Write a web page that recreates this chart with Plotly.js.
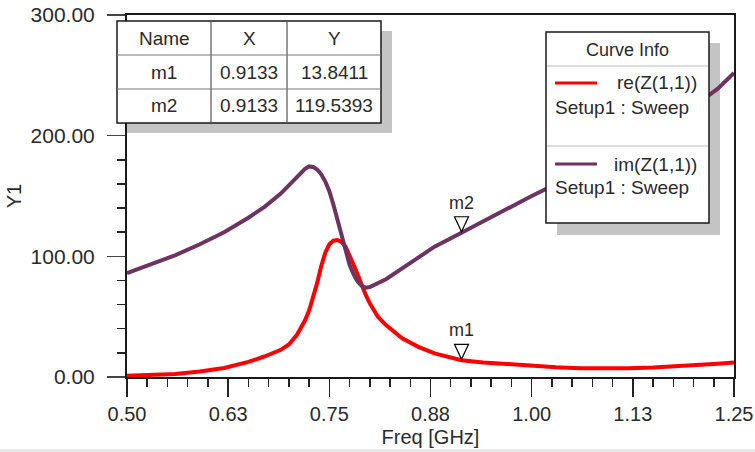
<!DOCTYPE html>
<html>
<head>
<meta charset="utf-8">
<script src="https://cdn.plot.ly/plotly-3.0.1.min.js"></script>
<style>
  html, body { margin: 0; padding: 0; background: #ffffff; }
  #chart { width: 755px; height: 452px; }
</style>
</head>
<body>
<div id="chart"></div>
<script>
// ---------- data ----------
const freq = [0.50, 0.53, 0.56, 0.59, 0.62, 0.65, 0.67, 0.69, 0.70, 0.71, 0.72, 0.725, 0.73, 0.735, 0.74, 0.745, 0.75, 0.755, 0.76, 0.765, 0.77, 0.775, 0.78, 0.785, 0.79, 0.795, 0.80, 0.81, 0.82, 0.84, 0.86, 0.88, 0.9133, 0.94, 0.97, 1.00, 1.03, 1.06, 1.09, 1.12, 1.15, 1.18, 1.21, 1.23, 1.25];
const reZ  = [1.0, 1.5, 2.5, 4.5, 7.5, 12.5, 17, 22.5, 27, 35, 47, 55, 66, 78, 92, 103, 110, 113, 113.5, 112, 108, 101, 93, 85, 76, 68, 61, 50, 43, 32, 25, 19.5, 13.8411, 12, 10.8, 9.2, 8, 7.3, 7, 7.2, 7.8, 8.8, 10, 11, 12];
const imZ  = [86, 93.5, 101, 110, 120, 132, 141, 152, 159, 166, 172.5, 174.5, 174, 172, 168, 162, 154, 143, 130, 117, 104, 93, 85, 79, 75.5, 74, 74.5, 78, 81, 90, 99.5, 108, 119.5393, 129, 140, 150, 160, 171, 182, 193, 205, 217, 229, 239, 252];

const curveNames  = ['re(Z(1,1))', 'im(Z(1,1))'];
const setupLabel  = 'Setup1 : Sweep';
const curveColors = ['#ff0000', '#6e3461'];

const markerNames = ['m1', 'm2'];
const markerX     = [0.9133, 0.9133];
const markerY     = [13.8411, 119.5393];

const xTickVals = [0.50, 0.625, 0.75, 0.875, 1.00, 1.125, 1.25];
const xTickText = ['0.50', '0.63', '0.75', '0.88', '1.00', '1.13', '1.25'];
const tableHeader = ['Name', 'X', 'Y'];

// ---------- layout helpers (pixel -> paper) ----------
const W = 755, H = 452;
const M = { l: 127, r: 21, t: 15, b: 75 };
const PW = W - M.l - M.r, PH = H - M.t - M.b;
const px = x => (x - M.l) / PW;
const py = y => (H - M.b - y) / PH;
const FONT = 'Liberation Sans, Arial, sans-serif';
const TXT = '#2a2a2a';

const traces = [
  { x: freq, y: reZ, type: 'scatter', mode: 'lines', name: curveNames[0],
    line: { color: curveColors[0], width: 4 }, hoverinfo: 'skip' },
  { x: freq, y: imZ, type: 'scatter', mode: 'lines', name: curveNames[1],
    line: { color: curveColors[1], width: 4 }, hoverinfo: 'skip' }
];

const shapes = [];
const annotations = [];

// marker triangles and labels
markerNames.forEach((n, i) => {
  shapes.push({
    type: 'path', xref: 'x', yref: 'y',
    xsizemode: 'pixel', ysizemode: 'pixel',
    xanchor: markerX[i], yanchor: markerY[i],
    path: 'M -7 16 L 7 16 L 0 1 Z',
    line: { color: '#000000', width: 1.2 }, fillcolor: '#ffffff', layer: 'above'
  });
  annotations.push({
    x: markerX[i], y: markerY[i], xref: 'x', yref: 'y',
    text: n, showarrow: false, yshift: 30, yanchor: 'middle',
    font: { family: FONT, size: 18, color: TXT }
  });
});

// ----- marker table -----
const tb = { x0: 117, x1: 381, y0: 21, y1: 123, cols: [117, 211, 287, 381], rows: [21, 55, 89, 123] };
shapes.push({ type: 'rect', xref: 'paper', yref: 'paper', layer: 'below',
  x0: px(tb.x0 + 10), x1: px(tb.x1 + 11), y0: py(tb.y0 + 10), y1: py(tb.y1 + 10),
  fillcolor: '#c4c4c4', line: { width: 0 } });
shapes.push({ type: 'rect', xref: 'paper', yref: 'paper', layer: 'above',
  x0: px(tb.x0), x1: px(tb.x1), y0: py(tb.y0), y1: py(tb.y1),
  fillcolor: '#ffffff', line: { color: '#1a1a1a', width: 1.5 } });
[tb.cols[1], tb.cols[2]].forEach(c => shapes.push({ type: 'line', xref: 'paper', yref: 'paper', layer: 'above',
  x0: px(c), x1: px(c), y0: py(tb.y0), y1: py(tb.y1), line: { color: '#555555', width: 1.2 } }));
[tb.rows[1], tb.rows[2]].forEach(r => shapes.push({ type: 'line', xref: 'paper', yref: 'paper', layer: 'above',
  x0: px(tb.x0), x1: px(tb.x1), y0: py(r), y1: py(r), line: { color: '#777777', width: 1.2 } }));
const tableRows = [tableHeader].concat(markerNames.map((n, i) => [n, markerX[i].toFixed(4), markerY[i].toFixed(4)]));
tableRows.forEach((row, r) => {
  row.forEach((cell, c) => {
    annotations.push({ xref: 'paper', yref: 'paper',
      x: px((tb.cols[c] + tb.cols[c + 1]) / 2), y: py((tb.rows[r] + tb.rows[r + 1]) / 2),
      text: cell, showarrow: false, xanchor: 'center', yanchor: 'middle',
      font: { family: FONT, size: 19, color: TXT } });
  });
});

// ----- curve info box -----
const lg = { x0: 546, x1: 709, y0: 32, y1: 223 };
shapes.push({ type: 'rect', xref: 'paper', yref: 'paper', layer: 'below',
  x0: px(lg.x0 + 11), x1: px(lg.x1 + 11), y0: py(lg.y0 + 11), y1: py(lg.y1 + 12),
  fillcolor: '#c4c4c4', line: { width: 0 } });
shapes.push({ type: 'rect', xref: 'paper', yref: 'paper', layer: 'above',
  x0: px(lg.x0), x1: px(lg.x1), y0: py(lg.y0), y1: py(lg.y1),
  fillcolor: '#ffffff', line: { color: '#1a1a1a', width: 1.5 } });
[66, 146].forEach(r => shapes.push({ type: 'line', xref: 'paper', yref: 'paper', layer: 'above',
  x0: px(lg.x0 + 1), x1: px(lg.x1 - 1), y0: py(r), y1: py(r), line: { color: '#bbbbbb', width: 1.2 } }));
annotations.push({ xref: 'paper', yref: 'paper', x: px((lg.x0 + lg.x1) / 2), y: py(50),
  text: 'Curve Info', showarrow: false, xanchor: 'center', yanchor: 'middle',
  font: { family: FONT, size: 18, color: TXT } });
const entryY = [83, 164];
curveNames.forEach((nm, i) => {
  shapes.push({ type: 'line', xref: 'paper', yref: 'paper', layer: 'above',
    x0: px(555), x1: px(597), y0: py(entryY[i]), y1: py(entryY[i]),
    line: { color: curveColors[i], width: 3 } });
  annotations.push({ xref: 'paper', yref: 'paper', x: px(699), y: py(entryY[i]),
    text: nm, showarrow: false, xanchor: 'right', yanchor: 'middle',
    font: { family: FONT, size: 19, color: TXT } });
  annotations.push({ xref: 'paper', yref: 'paper', x: px(553), y: py(entryY[i] + 24),
    text: setupLabel, showarrow: false, xanchor: 'left', yanchor: 'middle',
    font: { family: FONT, size: 19, color: TXT } });
});

// bottom light strip
shapes.push({ type: 'rect', xref: 'paper', yref: 'paper', layer: 'above',
  x0: px(0), x1: px(W), y0: py(H), y1: py(449), fillcolor: '#e8e8e8', line: { width: 0 } });

const layout = {
  width: W, height: H,
  margin: M,
  paper_bgcolor: '#ffffff', plot_bgcolor: '#ffffff',
  showlegend: false,
  font: { family: FONT, color: TXT },
  xaxis: {
    range: [0.5, 1.25], tickmode: 'array', tickvals: xTickVals, ticktext: xTickText,
    ticks: 'outside', ticklen: 18, tickwidth: 1.5, tickcolor: '#222',
    ticklabeloverflow: 'allow',
    minor: { tick0: 0.5, dtick: 0.025, ticks: 'outside', ticklen: 8, tickwidth: 1.5, tickcolor: '#222', showgrid: false },
    showgrid: false, zeroline: false,
    showline: true, linecolor: '#1a1a1a', linewidth: 2, mirror: true,
    tickfont: { family: FONT, size: 20, color: TXT },
    title: { text: 'Freq [GHz]', font: { family: FONT, size: 20, color: TXT }, standoff: 6 },
    fixedrange: true
  },
  yaxis: {
    range: [0, 300], dtick: 100, tick0: 0, tickformat: '.2f',
    ticks: 'outside', ticklen: 18, tickwidth: 1.5, tickcolor: '#444',
    ticklabeloverflow: 'allow',
    minor: { dtick: 20, ticks: 'outside', ticklen: 8, tickwidth: 1.5, tickcolor: '#222', showgrid: false },
    showgrid: false, zeroline: false,
    showline: true, linecolor: '#1a1a1a', linewidth: 2, mirror: true,
    tickfont: { family: FONT, size: 21, color: TXT },
    ticklabelstandoff: 8,
    title: { text: 'Y1', font: { family: FONT, size: 20, color: TXT }, standoff: 4 },
    fixedrange: true
  },
  shapes: shapes,
  annotations: annotations
};

Plotly.newPlot('chart', traces, layout, { staticPlot: true, displayModeBar: false });
</script>
</body>
</html>
